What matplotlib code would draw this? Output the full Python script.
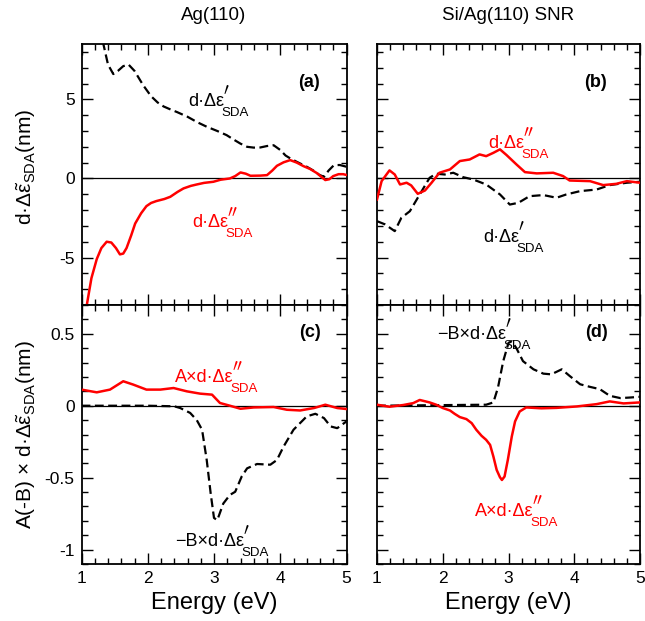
import matplotlib
matplotlib.use("Agg")
import matplotlib.pyplot as plt
from matplotlib.ticker import MultipleLocator, FuncFormatter
from matplotlib.transforms import offset_copy

plt.rcParams['font.family'] = ['Liberation Sans', 'DejaVu Sans']
plt.rcParams['mathtext.fontset'] = 'custom'
plt.rcParams['mathtext.rm'] = 'Liberation Sans'
plt.rcParams['mathtext.it'] = 'Liberation Sans:italic'
plt.rcParams['mathtext.bf'] = 'Liberation Sans:bold'

# ---- data: energy (eV) and spectra ----
# (a) Ag(110)
a_re_E = [1.30, 1.33, 1.40, 1.48, 1.55, 1.63, 1.71, 1.80, 1.93, 2.05, 2.15, 2.24, 2.35, 2.44,
          2.60, 2.75, 2.89, 3.05, 3.19, 3.30, 3.40, 3.50, 3.60, 3.70, 3.80, 3.90, 4.00, 4.08,
          4.15, 4.25, 4.40, 4.50, 4.58, 4.66, 4.73, 4.81, 4.90, 5.00]
a_re_val = [9.5, 8.5, 7.2, 6.6, 6.8, 7.1, 7.2, 6.8, 5.9, 5.2, 4.8, 4.55, 4.35, 4.2,
            3.9, 3.55, 3.27, 3.0, 2.74, 2.45, 2.2, 2.0, 1.95, 1.96, 2.05, 2.1, 1.8, 1.45,
            1.27, 1.05, 0.74, 0.5, 0.25, 0.1, 0.5, 0.84, 0.85, 0.74]
a_im_E = [1.00, 1.08, 1.15, 1.23, 1.30, 1.38, 1.45, 1.52, 1.58, 1.63, 1.68, 1.75, 1.81, 1.90,
          1.98, 2.05, 2.13, 2.25, 2.34, 2.45, 2.54, 2.65, 2.74, 2.85, 2.99, 3.10, 3.24, 3.32,
          3.40, 3.48, 3.55, 3.70, 3.80, 3.88, 3.95, 4.05, 4.15, 4.25, 4.35, 4.45, 4.56, 4.62,
          4.68, 4.74, 4.80, 4.88, 4.95, 5.00]
a_im_val = [-10.5, -8.0, -6.3, -5.1, -4.4, -4.0, -4.05, -4.4, -4.8, -4.75, -4.4, -3.6, -2.85, -2.2,
            -1.75, -1.55, -1.43, -1.3, -1.16, -0.85, -0.63, -0.47, -0.38, -0.28, -0.21, -0.08, 0.0, 0.15,
            0.38, 0.3, 0.17, 0.18, 0.21, 0.5, 0.8, 1.02, 1.16, 1.0, 0.78, 0.6, 0.32, 0.1,
            -0.1, -0.05, 0.15, 0.27, 0.27, 0.22]

# (b) Si/Ag(110) SNR
b_re_E = [1.00, 1.12, 1.27, 1.37, 1.50, 1.65, 1.80, 1.90, 2.03, 2.16, 2.31, 2.46, 2.66, 2.87,
          3.02, 3.15, 3.32, 3.53, 3.73, 3.88, 4.09, 4.34, 4.54, 4.80, 5.00]
b_re_val = [-2.7, -2.9, -3.33, -2.49, -2.07, -1.01, 0.04, 0.3, 0.25, 0.36, 0.08, -0.06, -0.38, -1.01,
            -1.65, -1.54, -1.12, -1.05, -1.22, -1.01, -0.8, -0.7, -0.42, -0.27, -0.21]
b_im_E = [1.00, 1.07, 1.19, 1.27, 1.35, 1.45, 1.52, 1.62, 1.73, 1.83, 1.95, 2.11, 2.26, 2.41,
          2.56, 2.66, 2.77, 2.87, 2.97, 3.12, 3.25, 3.43, 3.68, 3.83, 3.93, 4.24, 4.44, 4.64,
          4.80, 5.00]
b_im_val = [-1.33, -0.17, 0.51, 0.25, -0.38, -0.27, -0.44, -0.97, -0.76, -0.27, 0.36, 0.57, 1.1, 1.2,
            1.52, 1.41, 1.62, 1.84, 1.48, 0.89, 0.4, 0.32, 0.36, 0.15, -0.13, -0.17, -0.42, -0.34,
            -0.17, -0.27]

# (c) Ag(110), weighted by A and -B
c_re_E = [1.00, 2.00, 2.40, 2.49, 2.64, 2.74, 2.82, 2.89, 2.95, 3.00, 3.05, 3.14, 3.24, 3.32,
          3.42, 3.50, 3.65, 3.85, 3.95, 4.05, 4.20, 4.40, 4.53, 4.66, 4.76, 4.86, 5.00]
c_re_val = [0.0, 0.0, -0.004, -0.016, -0.05, -0.1, -0.167, -0.377, -0.61, -0.78, -0.795, -0.68, -0.62, -0.598,
            -0.49, -0.435, -0.405, -0.41, -0.377, -0.284, -0.167, -0.074, -0.056, -0.086, -0.144, -0.156, -0.109]
c_im_E = [1.00, 1.23, 1.43, 1.63, 1.78, 1.98, 2.19, 2.39, 2.59, 2.79, 2.97, 3.09, 3.24, 3.40,
          3.60, 3.90, 4.10, 4.30, 4.51, 4.68, 4.86, 5.00]
c_im_val = [0.112, 0.093, 0.112, 0.17, 0.147, 0.112, 0.112, 0.123, 0.1, 0.084, 0.077, 0.019, 0.0, -0.021,
            -0.012, -0.009, -0.028, -0.033, -0.016, 0.007, -0.016, -0.023]

# (d) Si/Ag(110) SNR, weighted by A and -B
d_re_E = [1.00, 2.66, 2.77, 2.84, 2.92, 3.00, 3.05, 3.12, 3.22, 3.38, 3.53, 3.65, 3.81, 3.93,
          4.09, 4.24, 4.39, 4.54, 4.70, 4.85, 5.00]
d_re_val = [0.0, 0.007, 0.023, 0.126, 0.31, 0.437, 0.448, 0.40, 0.31, 0.253, 0.223, 0.218, 0.253, 0.207,
            0.149, 0.131, 0.115, 0.069, 0.053, 0.057, 0.062]
d_im_E = [1.00, 1.19, 1.40, 1.55, 1.65, 1.80, 1.90, 2.00, 2.11, 2.18, 2.26, 2.36, 2.44, 2.51,
          2.59, 2.66, 2.72, 2.77, 2.82, 2.87, 2.90, 2.94, 2.99, 3.05, 3.10, 3.17, 3.27, 3.50,
          3.73, 4.04, 4.34, 4.54, 4.75, 5.00]
d_im_val = [0.007, -0.007, 0.005, 0.018, 0.04, 0.023, 0.007, -0.016, -0.033, -0.056, -0.079, -0.093, -0.121, -0.167,
            -0.209, -0.237, -0.272, -0.353, -0.446, -0.497, -0.516, -0.492, -0.376, -0.214, -0.109, -0.04, -0.012, -0.018,
            -0.015, -0.005, 0.011, 0.03, 0.016, 0.023]

col_titles = ["Ag(110)", "Si/Ag(110) SNR"]
panel_tags = ["(a)", "(b)", "(c)", "(d)"]

RED = "#ff0000"
DASH = (0, (4, 2))

fig = plt.figure(figsize=(6.45, 6.21), dpi=100)
W, H = 645, 621


def make_ax(x0, y0, x1, y1):
    return fig.add_axes([x0 / W, 1 - y1 / H, (x1 - x0) / W, (y1 - y0) / H])


ax_a = make_ax(81.5, 44, 346.5, 305)
ax_b = make_ax(377, 44, 640, 305)
ax_c = make_ax(81.5, 305, 346.5, 564)
ax_d = make_ax(377, 305, 640, 564)

for ax in (ax_a, ax_b, ax_c, ax_d):
    ax.set_xlim(1, 5)
    ax.xaxis.set_major_locator(MultipleLocator(1))
    ax.xaxis.set_minor_locator(MultipleLocator(0.2))
    ax.tick_params(which='both', direction='in', top=True, right=True, labelsize=12.5,
                   width=1.0, pad=5)
    ax.tick_params(which='major', length=8)
    ax.tick_params(which='minor', length=4.5)
    for s in ax.spines.values():
        s.set_linewidth(1.3)
    ax.axhline(0, color='black', lw=0.9, zorder=1)

for ax in (ax_a, ax_b):
    ax.set_ylim(-8, 8.5)
    ax.yaxis.set_major_locator(MultipleLocator(5))
    ax.yaxis.set_minor_locator(MultipleLocator(1))
    ax.tick_params(labelbottom=False)
for ax in (ax_c, ax_d):
    ax.set_ylim(-1.1, 0.7)
    ax.yaxis.set_major_locator(MultipleLocator(0.5))
    ax.yaxis.set_minor_locator(MultipleLocator(0.1))
    ax.set_xlabel("Energy (eV)", fontsize=17, labelpad=4)
for ax in (ax_b, ax_d):
    ax.tick_params(labelleft=False)

plain = FuncFormatter(lambda v, p: f"{v:g}")
ax_a.yaxis.set_major_formatter(plain)
ax_c.yaxis.set_major_formatter(plain)

ax_a.set_title(col_titles[0], fontsize=13.5, pad=17)
ax_b.set_title(col_titles[1], fontsize=13.5, pad=17)

ax_a.set_ylabel(r"d·Δ$\tilde{\mathrm{\varepsilon}}_{\mathrm{SDA}}$(nm)", fontsize=15)
ax_c.set_ylabel(r"A(-B) × d·Δ$\tilde{\mathrm{\varepsilon}}_{\mathrm{SDA}}$(nm)", fontsize=15)
ax_a.yaxis.set_label_coords(-0.163, 0.53)
ax_c.yaxis.set_label_coords(-0.163, 0.5)

# curves
ax_a.plot(a_re_E, a_re_val, color='black', lw=1.6, ls=DASH, zorder=3)
ax_a.plot(a_im_E, a_im_val, color=RED, lw=1.8, zorder=4)
ax_b.plot(b_re_E, b_re_val, color='black', lw=1.6, ls=DASH, zorder=3)
ax_b.plot(b_im_E, b_im_val, color=RED, lw=1.8, zorder=4)
ax_c.plot(c_re_E, c_re_val, color='black', lw=1.6, ls=DASH, zorder=3)
ax_c.plot(c_im_E, c_im_val, color=RED, lw=1.8, zorder=4)
ax_d.plot(d_re_E, d_re_val, color='black', lw=1.6, ls=DASH, zorder=3)
ax_d.plot(d_im_E, d_im_val, color=RED, lw=1.8, zorder=4)

renderer = fig.canvas.get_renderer()
FS = 13


def sda_label(ax, x, y, head, primes, color):
    """Draw head + stacked prime(s) and SDA subscript, baseline at (x, y)."""
    t = ax.text(x, y, head, fontsize=FS, color=color, ha='left', va='baseline')
    w = t.get_window_extent(renderer).width * 72 / fig.dpi
    tr_sub = offset_copy(ax.transData, fig=fig, x=w - 2.0, y=-0.6, units='points')
    ax.text(x, y, "SDA", fontsize=9.5, color=color, ha='left', va='top', transform=tr_sub)
    tr_p = offset_copy(ax.transData, fig=fig, x=w - 0.8, y=8.6, units='points')
    ax.text(x, y, "$" + r"\prime" * primes + "$", fontsize=12.5, color=color, ha='left',
            va='baseline', transform=tr_p, math_fontfamily='cm')


sda_label(ax_a, 2.61, 4.56, "d·Δε", 1, 'black')
sda_label(ax_a, 2.67, -3.1, "d·Δε", 2, RED)
sda_label(ax_b, 2.69, 1.9, "d·Δε", 2, RED)
sda_label(ax_b, 2.61, -4.0, "d·Δε", 1, 'black')
sda_label(ax_c, 2.41, 0.165, "A×d·Δε", 2, RED)
sda_label(ax_c, 2.41, -0.975, "−B×d·Δε", 1, 'black')
sda_label(ax_d, 1.91, 0.465, "−B×d·Δε", 1, 'black')
sda_label(ax_d, 2.49, -0.765, "A×d·Δε", 2, RED)

tag_pos = [(0.857, 0.854), (0.829, 0.854), (0.864, 0.892), (0.836, 0.892)]
for ax, tag, (tx, ty) in zip((ax_a, ax_b, ax_c, ax_d), panel_tags, tag_pos):
    ax.text(tx, ty, tag, transform=ax.transAxes, fontsize=13, fontweight='bold',
            ha='center', va='center')

fig.savefig("out.png", dpi=100)
